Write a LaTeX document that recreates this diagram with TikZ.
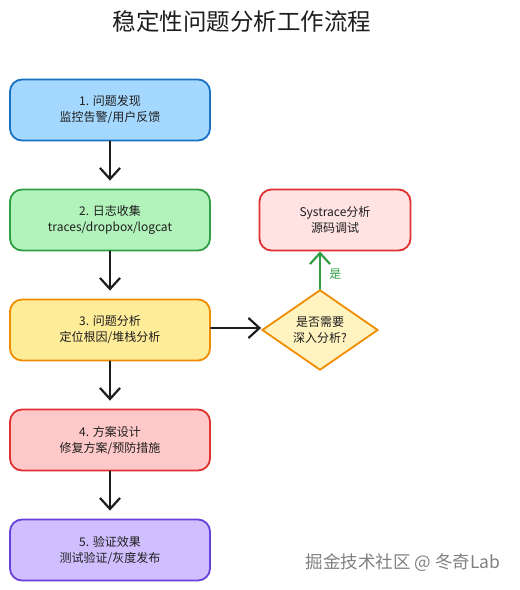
\documentclass[tikz,border=0pt]{standalone}
\usepackage{fontspec}
\setmainfont{Noto Sans CJK SC}
\usetikzlibrary{shapes.geometric,arrows.meta}
\definecolor{bluefill}{HTML}{A5D8FF}\definecolor{bluedraw}{HTML}{1971C2}
\definecolor{greenfill}{HTML}{B2F2BB}\definecolor{greendraw}{HTML}{2F9E44}
\definecolor{yellowfill}{HTML}{FFEC99}\definecolor{yellowdraw}{HTML}{F08C00}
\definecolor{redfill}{HTML}{FFC9C9}\definecolor{reddraw}{HTML}{E03131}
\definecolor{purplefill}{HTML}{D0BFFF}\definecolor{purpledraw}{HTML}{6741D9}
\definecolor{pinkfill}{HTML}{FFE3E3}
\definecolor{diafill}{HTML}{FFF3BF}
\definecolor{textcol}{HTML}{1E1E1E}
\tikzset{
  stepbox/.style={rectangle, rounded corners=12pt, line width=1.8pt, minimum width=200pt, minimum height=61pt, align=center, font=\fontsize{12}{16}\selectfont, text=textcol},
  flowarrow/.style={line width=2.2pt, line cap=round, draw=textcol, -{Straight Barb[length=11pt,width=20pt,line width=2.2pt]}},
}
\begin{document}
\begin{tikzpicture}[x=1pt,y=-1pt]
\path[use as bounding box] (0,0) rectangle (520,590);
\node[text=textcol] (title) at (242,22) {\fontsize{23.5}{28}\selectfont 稳定性问题分析工作流程};
\node[stepbox, fill=bluefill, draw=bluedraw] (s1) at (110,110) {1. 问题发现\\监控告警/用户反馈};
\node[stepbox, fill=greenfill, draw=greendraw] (s2) at (110,220) {2. 日志收集\\traces/dropbox/logcat};
\node[stepbox, fill=yellowfill, draw=yellowdraw] (s3) at (110,330) {3. 问题分析\\定位根因/堆栈分析};
\node[stepbox, fill=redfill, draw=reddraw] (s4) at (110,440) {4. 方案设计\\修复方案/预防措施};
\node[stepbox, fill=purplefill, draw=purpledraw] (s5) at (110,550) {5. 验证效果\\测试验证/灰度发布};
\node[stepbox, fill=pinkfill, draw=reddraw, minimum width=151pt] (sys) at (335,220) {Systrace分析\\源码调试};
\node[diamond, fill=diafill, draw=yellowdraw, line width=1.8pt, minimum width=116pt, minimum height=75pt, inner sep=0pt, align=center, font=\fontsize{12}{16}\selectfont, text=textcol] (dec) at (320,330) {是否需要\\深入分析?};
\draw[flowarrow] (s1.south) -- ([yshift=8pt]s2.north);
\draw[flowarrow] (s2.south) -- ([yshift=8pt]s3.north);
\draw[flowarrow] (s3.south) -- ([yshift=8pt]s4.north);
\draw[flowarrow] (s4.south) -- ([yshift=8pt]s5.north);
\draw[flowarrow] ([yshift=2pt]s3.east) -- ([yshift=2pt]dec.west);
\draw[flowarrow, draw=greendraw] (dec.north) -- (dec.north |- sys.south) node[pos=0.4, right=5pt, text=greendraw, font=\fontsize{12}{14}\selectfont] {是};
\node[text=gray, font=\fontsize{17.5}{20}\selectfont] (wm) at (403,563) {掘金技术社区 @ 冬奇Lab};
\end{tikzpicture}
\end{document}
